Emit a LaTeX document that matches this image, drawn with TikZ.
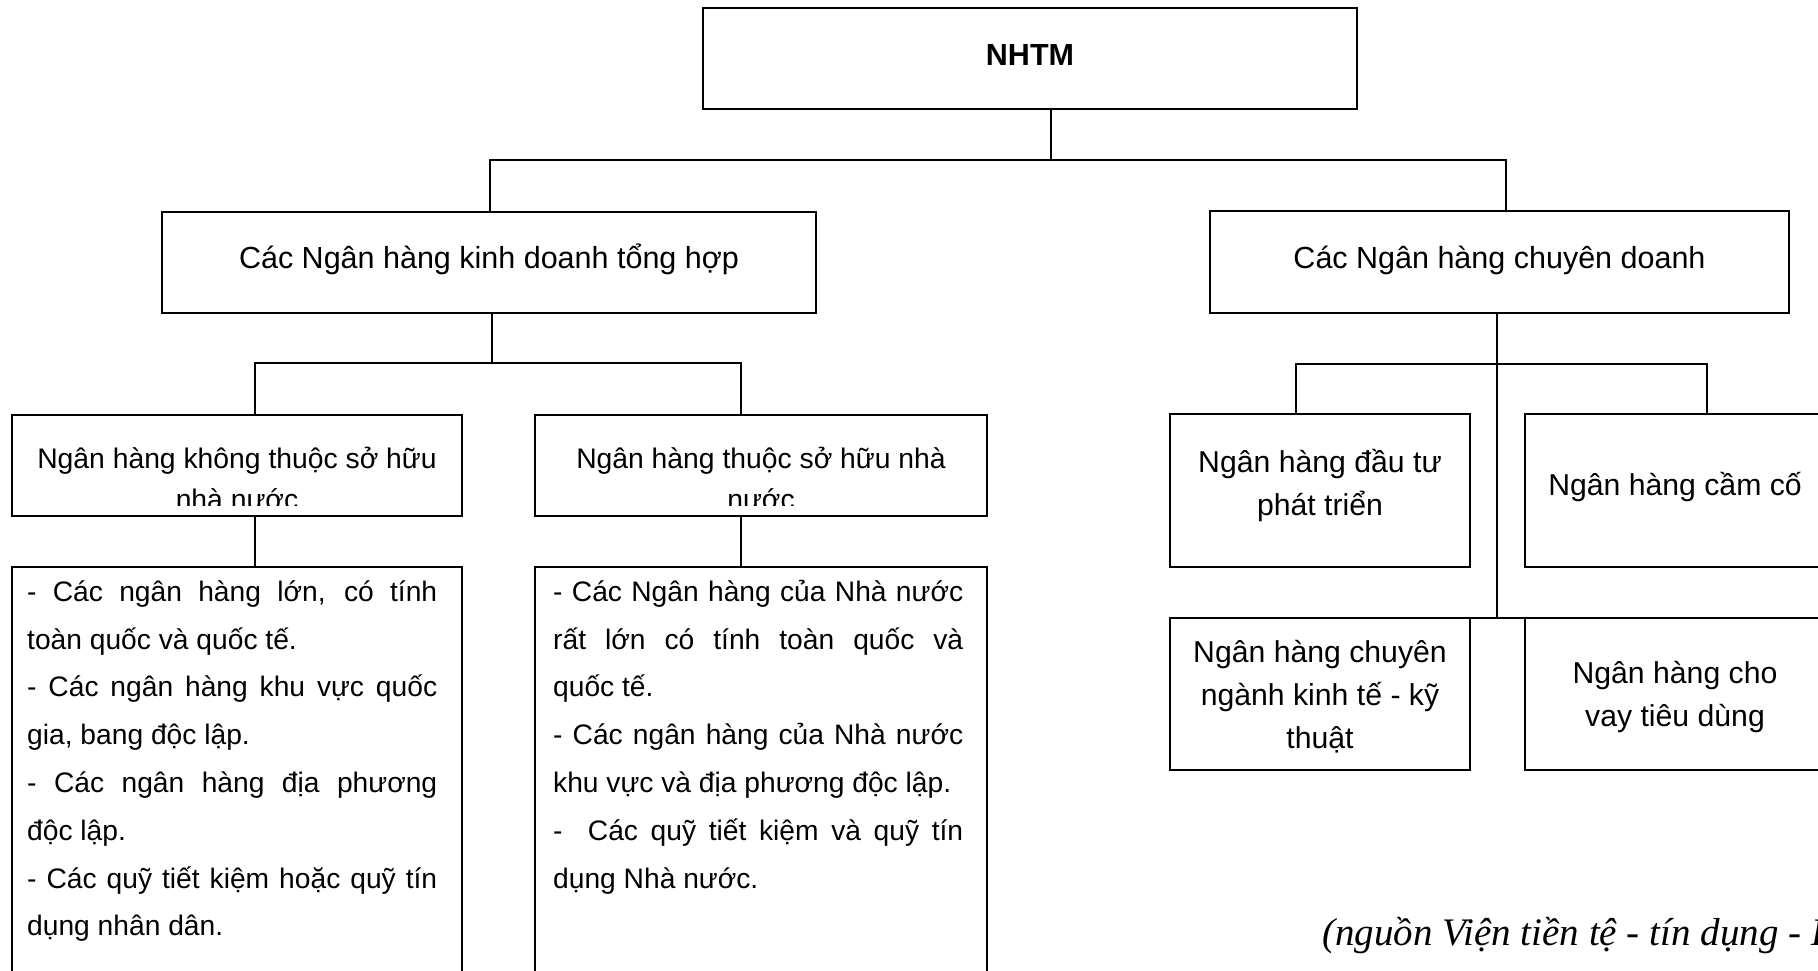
\documentclass[tikz,border=0pt]{standalone}
\usepackage{fontspec}
\setmainfont{Liberation Sans}
\newfontfamily\notefont{Liberation Serif}
% fixed-height strut so the first baseline of a multi-line node is known
\newcommand{\topstrut}{\rule{0pt}{40pt}}
\newlength{\bodyw}
\setlength{\bodyw}{410pt}
% one fully justified line of the description boxes
\newcommand{\justline}[1]{\makebox[\bodyw][s]{\spaceskip=0.278em plus 1fil minus 0.06em\relax #1}}
% closing line of a paragraph, left aligned
\newcommand{\lastline}[1]{\makebox[\bodyw][l]{#1}}
\begin{document}
\begin{tikzpicture}[x=1pt,y=-1pt,
  boxsty/.style={draw=black, line width=1.6pt, inner sep=0pt, outer sep=0pt},
  wire/.style={draw=black, line width=1.6pt},
  toptext/.style={font=\fontsize{30.5}{36}\selectfont, inner sep=0pt, anchor=base},
  headtext/.style={font=\fontsize{28.3}{41}\selectfont, inner sep=0pt, align=center, anchor=north},
  bodytext/.style={font=\fontsize{28.2}{47.8}\selectfont, inner sep=0pt, align=left, anchor=north west},
  subtext/.style={font=\fontsize{30.2}{43}\selectfont, inner sep=0pt, align=center, anchor=north},
]
\useasboundingbox (0,0) rectangle (1818,971);
\fill[white] (0,0) rectangle (1818,971);
\clip (0,0) rectangle (1818,971);

% ---- boxes
\node[boxsty, minimum width=654pt, minimum height=101pt] (nhtm) at (1030,58.5) {};
\node[boxsty, minimum width=654pt, minimum height=101pt] (kd) at (489,262.5) {};
\node[boxsty, minimum width=579pt, minimum height=102pt] (cd) at (1499.5,262) {};
\node[boxsty, minimum width=450pt, minimum height=101pt] (nn) at (237,465.5) {};
\node[boxsty, minimum width=452pt, minimum height=101pt] (sh) at (761,465.5) {};
\node[boxsty, minimum width=450pt, minimum height=433pt] (nnc) at (237,783.5) {};
\node[boxsty, minimum width=452pt, minimum height=433pt] (shc) at (761,783.5) {};
\node[boxsty, minimum width=300pt, minimum height=153pt] (dt) at (1320,490.5) {};
\node[boxsty, minimum width=300pt, minimum height=153pt] (cc) at (1675,490.5) {};
\node[boxsty, minimum width=300pt, minimum height=152pt] (kt) at (1320,694) {};
\node[boxsty, minimum width=300pt, minimum height=152pt] (td) at (1675,694) {};

% ---- texts
\node[toptext, font=\fontsize{30.5}{36}\bfseries\selectfont] (nhtmtxt) at (1030,66) {NHTM};
\node[toptext] (kdtxt) at (489,268) {Các Ngân hàng kinh doanh tổng hợp};
\node[toptext] (cdtxt) at (1499.5,268) {Các Ngân hàng chuyên doanh};

\begin{scope}
  \clip (12,415) rectangle (462,505.5);
  \node[headtext] (nntxt) at (237,428) {\topstrut Ngân hàng không thuộc sở hữu\\nhà nước};
\end{scope}
\begin{scope}
  \clip (535,415) rectangle (987,505.5);
  \node[headtext] (shtxt) at (761,428) {\topstrut Ngân hàng thuộc sở hữu nhà\\nước};
\end{scope}

\node[bodytext] (nnctxt) at (27,561) {\topstrut\justline{- Các ngân hàng lớn, có tính}\\
\lastline{toàn quốc và quốc tế.}\\
\justline{- Các ngân hàng khu vực quốc}\\
\lastline{gia, bang độc lập.}\\
\justline{- Các ngân hàng địa phương}\\
\lastline{độc lập.}\\
\justline{- Các quỹ tiết kiệm hoặc quỹ tín}\\
\lastline{dụng nhân dân.}};

\node[bodytext] (shctxt) at (553,561) {\topstrut\justline{- Các Ngân hàng của Nhà nước}\\
\justline{rất lớn có tính toàn quốc và}\\
\lastline{quốc tế.}\\
\justline{- Các ngân hàng của Nhà nước}\\
\lastline{khu vực và địa phương độc lập.}\\
\justline{-~~Các quỹ tiết kiệm và quỹ tín}\\
\lastline{dụng Nhà nước.}};

\node[subtext] (dttxt) at (1320,432) {\topstrut Ngân hàng đầu tư\\phát triển};
\node[toptext, font=\fontsize{30.2}{43}\selectfont] (cctxt) at (1675,495) {Ngân hàng cầm cố};
\node[subtext] (kttxt) at (1320,622) {\topstrut Ngân hàng chuyên\\ngành kinh tế - kỹ\\thuật};
\node[subtext] (tdtxt) at (1675,643) {\topstrut Ngân hàng cho\\vay tiêu dùng};

\node[inner sep=0pt, anchor=base west, font=\notefont\itshape\fontsize{39}{45}\selectfont] (src) at (1322,945) {(nguồn Viện tiền tệ - tín dụng - H};

% ---- connectors
\coordinate (jt) at (1051,160);
\coordinate (jl) at (490,160);
\coordinate (jr) at (1506,160);
\draw[wire] (nhtm.south -| jt) -- (jt);
\draw[wire] (kd.north -| jl) -- (jl) -- (jr) -- (cd.north -| jr);

\coordinate (kl) at (492,363);
\coordinate (kl1) at (255,363);
\coordinate (kl2) at (741,363);
\draw[wire] (kd.south -| kl) -- (kl);
\draw[wire] (nn.north -| kl1) -- (kl1) -- (kl2) -- (sh.north -| kl2);
\draw[wire] (nn.south -| kl1) -- (nnc.north -| kl1);
\draw[wire] (sh.south -| kl2) -- (shc.north -| kl2);

\coordinate (rv) at (1497,363.7);
\coordinate (r1) at (1296,363.7);
\coordinate (r2) at (1707,363.7);
\draw[wire] (cd.south -| rv) -- (kt.north -| rv);
\draw[wire] (dt.north -| r1) -- (r1) -- (r2) -- (cc.north -| r2);
\draw[wire] (kt.north east) -- (td.north west);
\end{tikzpicture}
\end{document}
